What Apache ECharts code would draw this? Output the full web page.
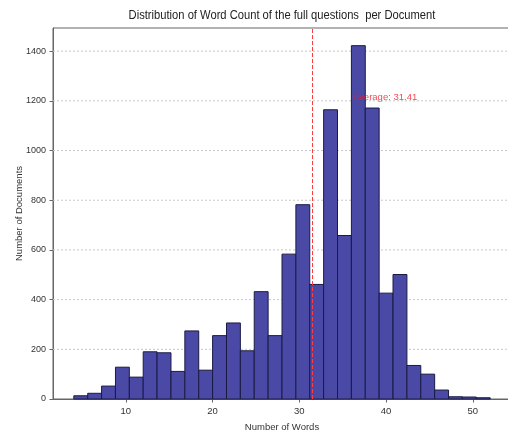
<!DOCTYPE html>
<html>
<head>
<meta charset="utf-8">
<script src="https://cdn.jsdelivr.net/npm/echarts@6/dist/echarts.min.js"></script>
<style>
  html, body { margin: 0; padding: 0; background: #ffffff; }
  #chart { width: 508px; height: 434px; }
</style>
</head>
<body>
<div id="chart"></div>
<script>
// Histogram of word counts: 30 equal-width bins starting at 4 words
const binStart = 4;
const binWidth = 1.6;
const counts = [13, 23, 52, 128, 88, 190, 186, 111, 274, 116,
                255, 306, 194, 432, 255, 583, 782, 461, 1164, 658,
                1422, 1171, 426, 501, 135, 100, 36, 9, 8, 5];
const xTickValues = [10, 20, 30, 40, 50];
const yTickValues = [0, 200, 400, 600, 800, 1000, 1200, 1400];
const averageWords = 31.41;
const averageLabelAt = [36.41, 1200];
const chartTitle = 'Distribution of Word Count of the full questions  per Document';

const FONT = '"Liberation Sans", "DejaVu Sans", sans-serif';

const bins = counts.map((c, i) => [binStart + i * binWidth, binStart + (i + 1) * binWidth, c]);
const xMin = binStart - 0.05 * counts.length * binWidth;
const xMax = binStart + 1.05 * counts.length * binWidth;
const yMax = Math.max(...counts) * 1.05;

const chart = echarts.init(document.getElementById('chart'), null, { renderer: 'canvas' });

chart.setOption({
  animation: false,
  backgroundColor: '#ffffff',
  textStyle: { fontFamily: FONT },
  graphic: [
    {
      // narrow title, centred over the plot area
      type: 'text',
      x: 282,
      y: 15,
      scaleX: 0.86,
      silent: true,
      style: {
        text: chartTitle,
        font: '13px ' + FONT,
        fill: '#222222',
        align: 'center',
        verticalAlign: 'middle'
      }
    }
  ],
  grid: {
    left: 53, top: 28, width: 458, bottom: 35,
    outerBoundsMode: 'none',
    containLabel: false,
    show: true, borderColor: '#666666', borderWidth: 1, backgroundColor: 'transparent'
  },
  xAxis: {
    type: 'value',
    min: xMin,
    max: xMax,
    name: 'Number of Words',
    nameLocation: 'middle',
    nameGap: 23,
    nameMoveOverlap: false,
    nameTextStyle: { fontFamily: FONT, fontSize: 9.5, color: '#333333' },
    axisLine: { show: true, lineStyle: { color: '#666666', width: 1 } },
    axisTick: { show: true, length: 3.5, lineStyle: { color: '#666666' }, customValues: xTickValues },
    axisLabel: { fontFamily: FONT, fontSize: 9.5, color: '#333333', margin: 7, customValues: xTickValues },
    splitLine: { show: false }
  },
  yAxis: {
    type: 'value',
    min: 0,
    max: yMax,
    name: 'Number of Documents',
    nameLocation: 'middle',
    nameGap: 29,
    nameMoveOverlap: false,
    nameTextStyle: { fontFamily: FONT, fontSize: 9.5, color: '#333333' },
    axisLine: { show: true, lineStyle: { color: '#666666', width: 1 } },
    axisTick: { show: true, length: 3.5, lineStyle: { color: '#666666' }, customValues: yTickValues },
    axisLabel: {
      fontFamily: FONT, fontSize: 9, color: '#333333', margin: 7,
      customValues: yTickValues,
      formatter: v => String(Math.round(v))
    },
    splitLine: { show: false }
  },
  series: [
    {
      // dotted horizontal grid at the y ticks, drawn beneath the bars
      type: 'custom',
      silent: true,
      z: 1,
      data: yTickValues.filter(v => v > 0).map(v => [v]),
      encode: { y: 0 },
      renderItem(params, api) {
        const v = api.value(0);
        const a = api.coord([xMin, v]);
        const b = api.coord([xMax, v]);
        return {
          type: 'line',
          shape: { x1: a[0], y1: a[1], x2: b[0], y2: b[1] },
          style: { stroke: '#c8c8c8', lineWidth: 1, lineDash: [2, 2] }
        };
      }
    },
    {
      type: 'custom',
      name: 'Documents',
      z: 2,
      data: bins,
      encode: { x: [0, 1], y: 2 },
      renderItem(params, api) {
        const top = api.coord([api.value(0), api.value(2)]);
        const base = api.coord([api.value(1), 0]);
        return {
          type: 'rect',
          shape: { x: top[0], y: top[1], width: base[0] - top[0], height: base[1] - top[1] },
          style: { fill: '#4a4aa6', stroke: '#1a1a44', lineWidth: 1 }
        };
      }
    },
    {
      // dashed red line at the average word count, spanning the full plot height
      type: 'custom',
      silent: true,
      z: 4,
      data: [[averageWords]],
      encode: { x: 0 },
      renderItem(params, api) {
        const x = api.value(0);
        const a = api.coord([x, 0]);
        const b = api.coord([x, yMax]);
        const px = Math.round(a[0]) + 0.5;
        return {
          type: 'line',
          shape: { x1: px, y1: a[1], x2: px, y2: b[1] },
          style: { stroke: '#ff3b3b', lineWidth: 1, lineDash: [4, 2] }
        };
      }
    },
    {
      type: 'scatter',
      z: 5,
      symbolSize: 0,
      silent: true,
      data: [averageLabelAt],
      label: {
        show: true,
        formatter: 'Average: ' + averageWords.toFixed(2),
        position: 'right',
        distance: 0,
        offset: [-2, -3],
        fontFamily: FONT,
        fontSize: 9.5,
        color: '#ee1c25'
      }
    }
  ]
});
</script>
</body>
</html>
